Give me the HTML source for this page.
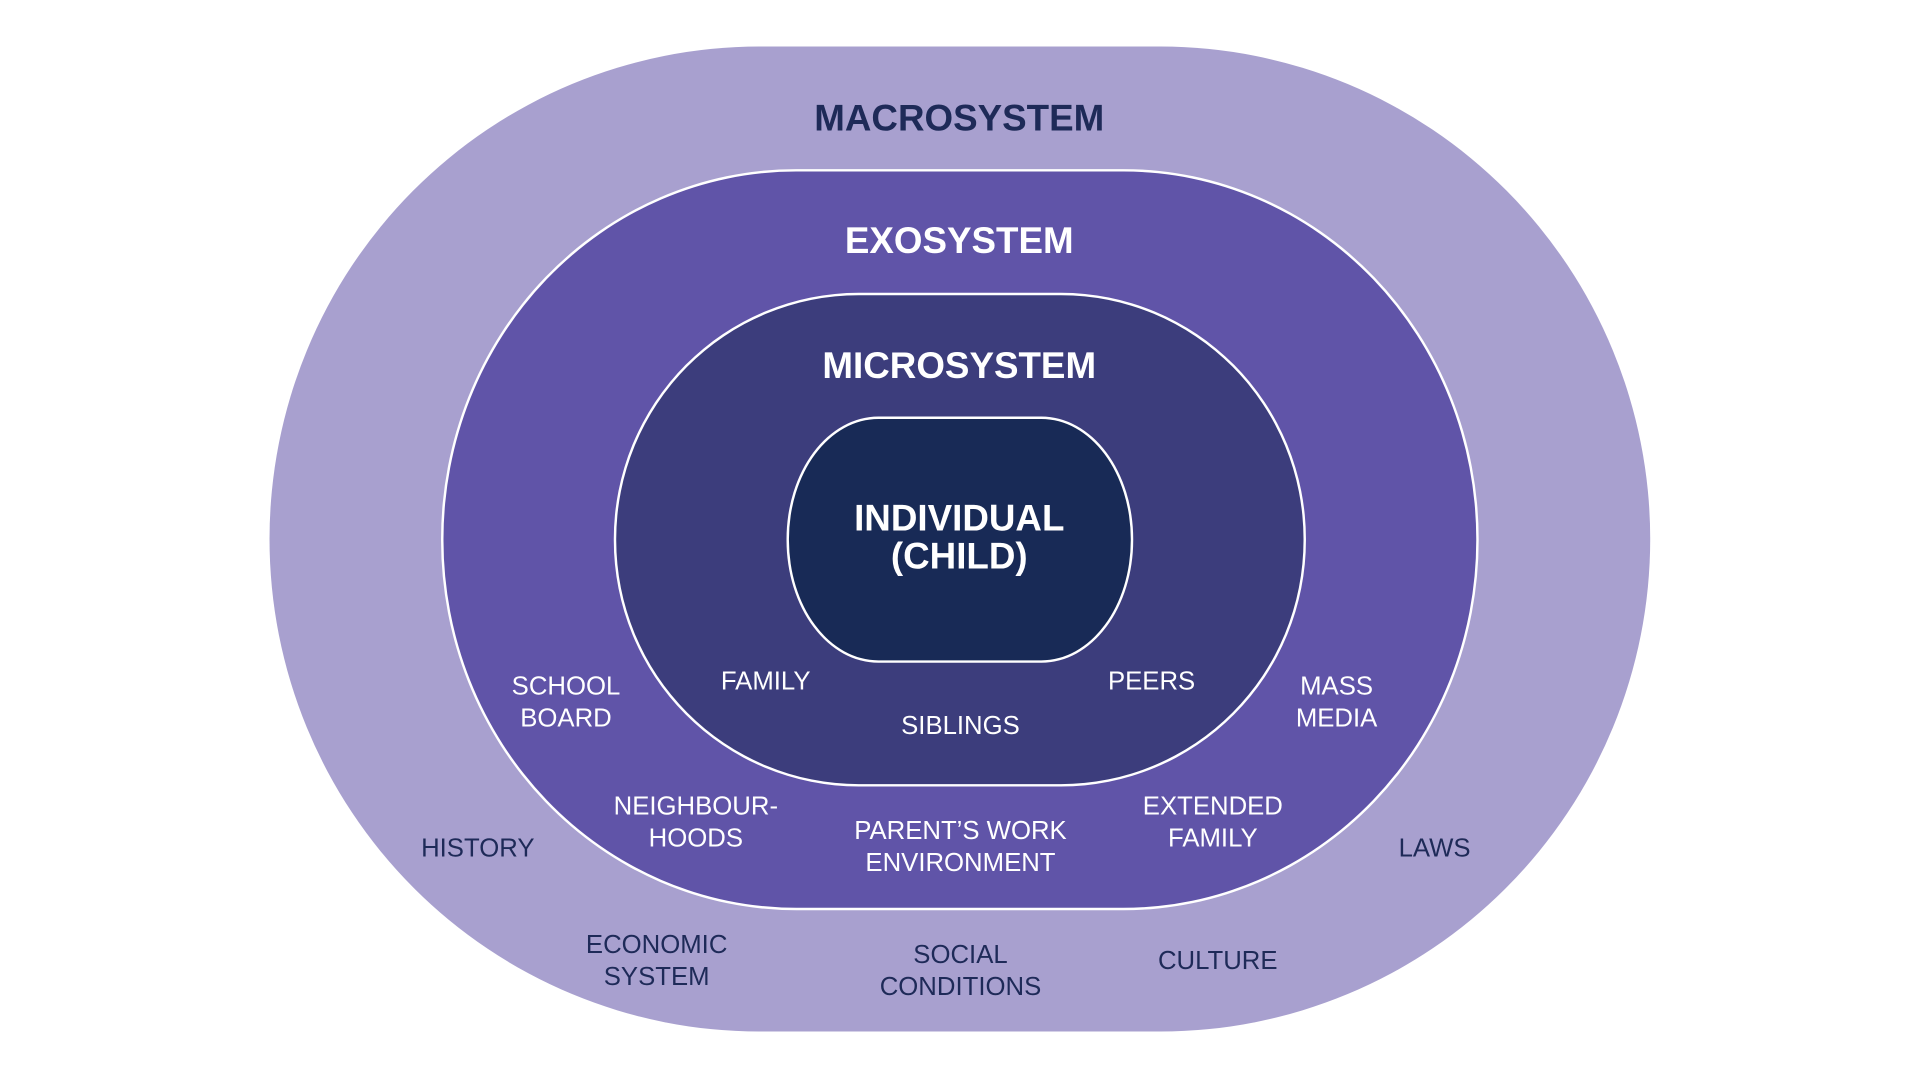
<!DOCTYPE html>
<html><head><meta charset="utf-8"><style>
html,body{margin:0;padding:0;background:#fff;width:1921px;height:1080px;overflow:hidden}
#w{position:absolute;left:0;top:0;width:1568px;height:882px;transform:scale(1.2251);transform-origin:0 0;font-family:"Liberation Sans",sans-serif}
.s{position:absolute;box-sizing:border-box}
.t{position:absolute;transform:translate(-50%,-50%);text-align:center;white-space:nowrap;line-height:26px;font-size:21px}
.b{font-weight:bold;font-size:30px;line-height:31px}
.w{color:#fff}.d{color:#1e2a58}
</style></head><body><div id="w">
<div class="s" style="left:220px;top:38px;width:1127px;height:804px;border-radius:400px/402px;background:#a8a0cf"></div>
<div class="s" style="left:360px;top:138px;width:847px;height:605px;border-radius:290px/302px;background:#6054a8;border:2px solid #fff"></div>
<div class="s" style="left:501px;top:239px;width:565px;height:403px;border-radius:200px/201px;background:#3c3d7c;border:2px solid #fff"></div>
<div class="s" style="left:642px;top:340px;width:283px;height:201px;border-radius:75px/100px;background:#182a56;border:2px solid #fff"></div>

<div class="t b d" style="left:783px;top:97px">MACROSYSTEM</div>
<div class="t b w" style="left:783px;top:197px">EXOSYSTEM</div>
<div class="t b w" style="left:783px;top:299px">MICROSYSTEM</div>
<div class="t b w" style="left:783px;top:439px">INDIVIDUAL<br>(CHILD)</div>

<div class="t w" style="left:462px;top:574px">SCHOOL<br>BOARD</div>
<div class="t w" style="left:625px;top:557px">FAMILY</div>
<div class="t w" style="left:784px;top:593px">SIBLINGS</div>
<div class="t w" style="left:940px;top:557px">PEERS</div>
<div class="t w" style="left:1091px;top:574px">MASS<br>MEDIA</div>
<div class="t w" style="left:568px;top:672px">NEIGHBOUR-<br>HOODS</div>
<div class="t w" style="left:784px;top:692px">PARENT’S WORK<br>ENVIRONMENT</div>
<div class="t w" style="left:990px;top:672px">EXTENDED<br>FAMILY</div>

<div class="t d" style="left:390px;top:693px">HISTORY</div>
<div class="t d" style="left:1171px;top:693px">LAWS</div>
<div class="t d" style="left:536px;top:785px">ECONOMIC<br>SYSTEM</div>
<div class="t d" style="left:784px;top:793px">SOCIAL<br>CONDITIONS</div>
<div class="t d" style="left:994px;top:785px">CULTURE</div>
</div></body></html>
